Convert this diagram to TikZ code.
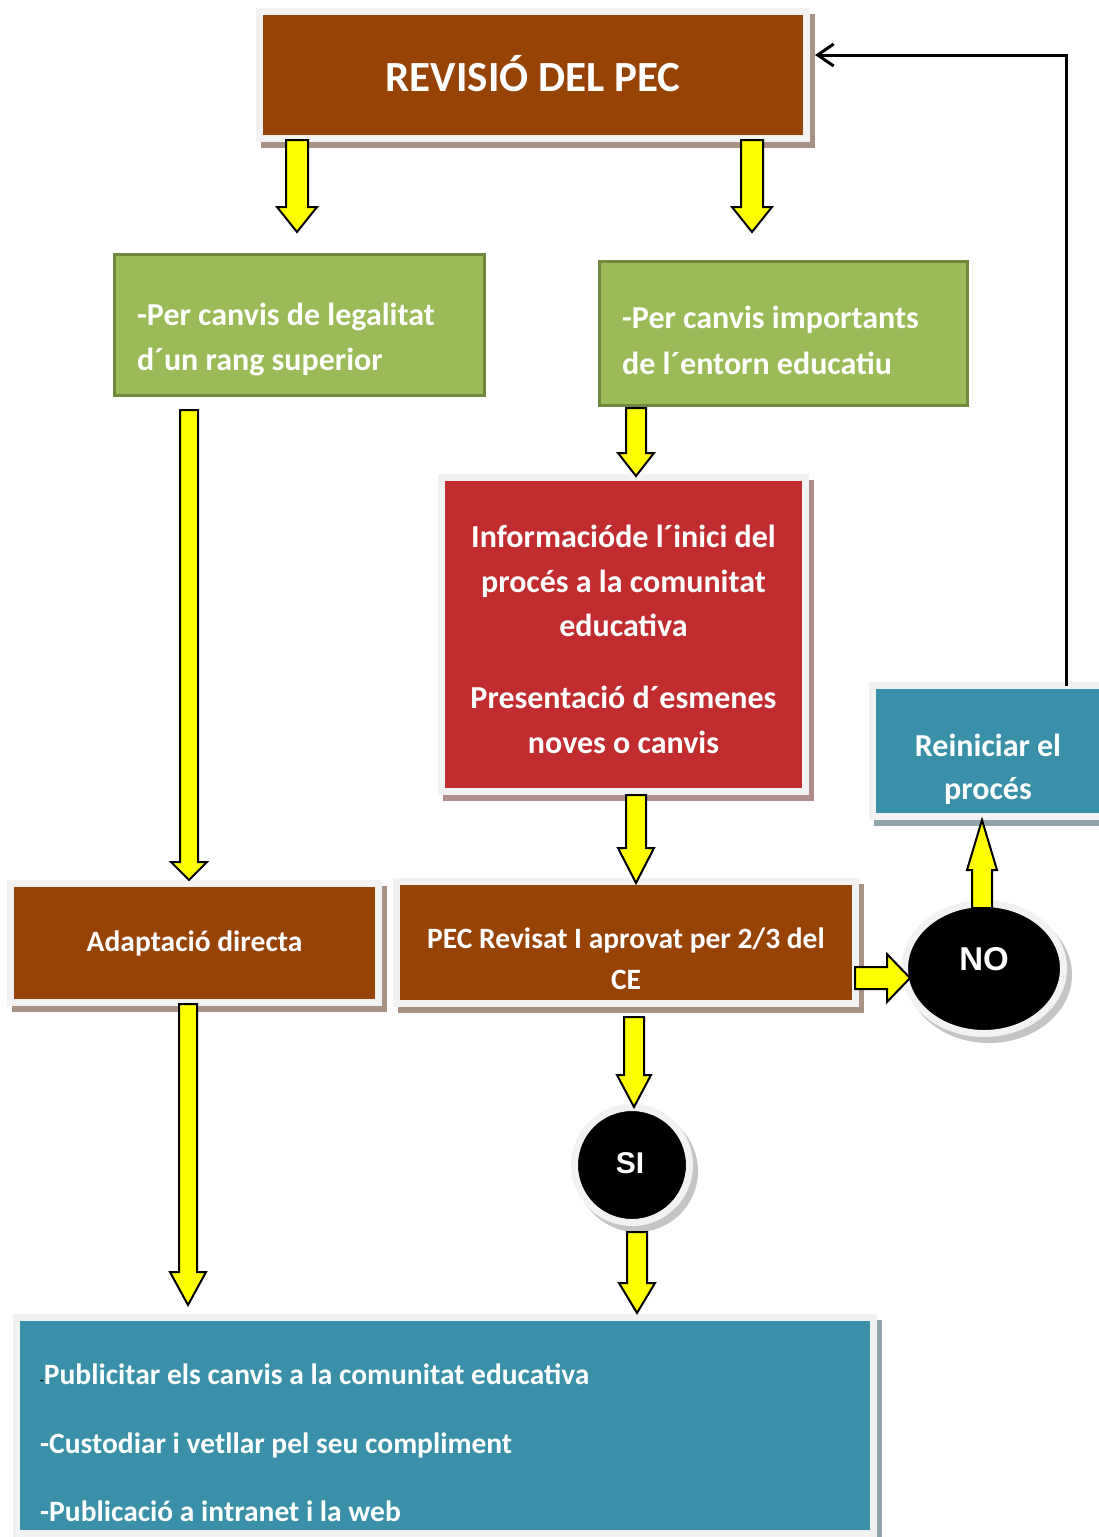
\documentclass[tikz,border=0pt]{standalone}
\usepackage{fontspec}
\setmainfont{Carlito}
\newfontfamily\arialfont{Liberation Sans}
\usetikzlibrary{shapes.geometric,arrows.meta}
\definecolor{brownc}{HTML}{984306}
\definecolor{greenc}{HTML}{9BBB59}
\definecolor{greenb}{HTML}{71893F}
\definecolor{redc}{HTML}{C12D2F}
\definecolor{tealc}{HTML}{3A90A8}
\definecolor{framec}{HTML}{F2F2F2}
\definecolor{shbrown}{HTML}{A79283}
\definecolor{shred}{HTML}{B08C8C}
\definecolor{shteal}{HTML}{8FA4AB}
\definecolor{shgray}{HTML}{C4C4C4}
\definecolor{yarrc}{HTML}{FFFF00}
\tikzset{
  box/.style={rectangle, inner sep=0pt, outer sep=0pt, draw=framec, line width=7pt, fill=#1},
  shad/.style={preaction={draw=#1, fill=#1, line width=7pt, transform canvas={shift={(5pt,-6pt)}}}},
  gbox/.style={rectangle, inner sep=0pt, outer sep=0pt, draw=greenb, line width=3pt, fill=greenc},
  dot/.style={inner sep=0pt, outer sep=0pt, draw=framec, line width=7pt, fill=black},
  txt/.style={text=white, font=\bfseries\fontsize{29.5}{29.5}\selectfont, inner sep=0pt},
  txtl/.style={text=white, font=\bfseries\fontsize{32}{32}\selectfont, inner sep=0pt},
  ttl/.style={text=white, font=\bfseries\fontsize{43}{43}\selectfont, inner sep=0pt},
  yn/.style={text=white, font=\arialfont\bfseries\fontsize{#1}{#1}\selectfont, inner sep=0pt},
  yarr/.style={fill=yarrc, draw=black, line width=2pt, line join=miter},
  link/.style={draw=black, line width=3pt, -{Straight Barb[length=16pt,width=22pt,line width=3pt]}},
}
% vertical block arrow: x, ystart, yheadbase, ytip, halfshaft, halfhead
\newcommand\vblk[6]{\draw[yarr] (#1-#5,#2) -- (#1+#5,#2) -- (#1+#5,#3) -- (#1+#6,#3) -- (#1,#4) -- (#1-#6,#3) -- (#1-#5,#3) -- cycle;}
% horizontal block arrow: y, xstart, xheadbase, xtip, halfshaft, halfhead
\newcommand\hblk[6]{\draw[yarr] (#2,#1-#5) -- (#2,#1+#5) -- (#3,#1+#5) -- (#3,#1+#6) -- (#4,#1) -- (#3,#1-#6) -- (#3,#1-#5) -- cycle;}
\begin{document}
\begin{tikzpicture}[x=1pt,y=-1pt]
\useasboundingbox[fill=white] (0,0) rectangle (1099,1537);

% boxes
\node[box=brownc, shad=shbrown, minimum width=547pt, minimum height=127pt] (top) at (533,75) {};
\node[gbox, minimum width=370pt, minimum height=141pt] (gl) at (299.5,325) {};
\node[gbox, minimum width=368pt, minimum height=144pt] (gr) at (783.5,333.5) {};
\node[box=redc, shad=shred, minimum width=364pt, minimum height=314pt] (red) at (623.5,634.5) {};
\node[box=brownc, shad=shbrown, minimum width=368pt, minimum height=119pt] (adap) at (194.5,943) {};
\node[box=brownc, shad=shbrown, minimum width=459pt, minimum height=122pt] (pec) at (626,942.5) {};
\node[box=tealc, shad=shteal, minimum width=231pt, minimum height=131pt] (rein) at (988,751) {};
\node[box=tealc, shad=shteal, minimum width=857pt, minimum height=216pt] (bot) at (445,1425.5) {};
\node[dot, ellipse, shad=shgray, minimum width=159pt, minimum height=130pt] (no) at (984,968.5) {};
\node[dot, circle, shad=shgray, minimum size=115pt] (si) at (632,1165) {};

% texts
\node[ttl, anchor=base] (ttop) at (533,91) {REVISIÓ DEL PEC};
\node[txtl, anchor=base west] (gl1) at (137,325) {-Per canvis de legalitat};
\node[txtl, anchor=base west] (gl2) at (137,370) {d´un rang superior};
\node[txtl, anchor=base west] (gr1) at (622,328) {-Per canvis importants};
\node[txtl, anchor=base west] (gr2) at (622,374) {de l´entorn educatiu};
\node[txtl, anchor=base] (r1) at (623.5,547) {Informacióde l´inici del};
\node[txtl, anchor=base] (r2) at (623.5,592) {procés a la comunitat};
\node[txtl, anchor=base] (r3) at (623.5,636) {educativa};
\node[txtl, anchor=base] (r4) at (623.5,708) {Presentació d´esmenes};
\node[txtl, anchor=base] (r5) at (623.5,753) {noves o canvis};
\node[txt, anchor=base] (ta) at (194.5,951) {Adaptació directa};
\node[txt, anchor=base] (p1) at (626,948) {PEC Revisat I aprovat per 2/3 del};
\node[txt, anchor=base] (p2) at (626,989) {CE};
\node[txtl, anchor=base] (re1) at (988,756) {Reiniciar el};
\node[txtl, anchor=base] (re2) at (988,799) {procés};
\node[yn=33, anchor=base] (tno) at (984,970) {NO};
\node[yn=30, anchor=base] (tsi) at (630,1173) {SI};
\node[txt, anchor=base west] (b1) at (40,1384) {{\color{black}\fontsize{12}{12}\selectfont -}Publicitar els canvis a la comunitat educativa};
\node[txt, anchor=base west] (b2) at (40,1453) {-Custodiar i vetllar pel seu compliment};
\node[txt, anchor=base west] (b3) at (40,1521) {-Publicació a intranet i la web};

% block arrows
\vblk{297}{140}{207}{232}{11}{20}
\vblk{752}{140}{207}{232}{11}{20}
\vblk{189}{410}{862}{880}{9}{18}
\vblk{636}{408}{453}{476}{10}{18}
\vblk{636}{795}{848}{883}{10}{18}
\vblk{188}{1004}{1272}{1305}{9}{18}
\vblk{634}{1017}{1075}{1107}{10}{17}
\vblk{637}{1232}{1283}{1313}{10}{18}
\vblk{982}{908}{870}{820}{10}{15}
\hblk{978}{855}{887}{910}{11}{24}

% return line
\coordinate (c1) at (1066,686);
\coordinate (c2) at (1066,55);
\coordinate (c3) at (815,55);
\draw[link] (c1) -- (c2) -- (c3);
\end{tikzpicture}
\end{document}
